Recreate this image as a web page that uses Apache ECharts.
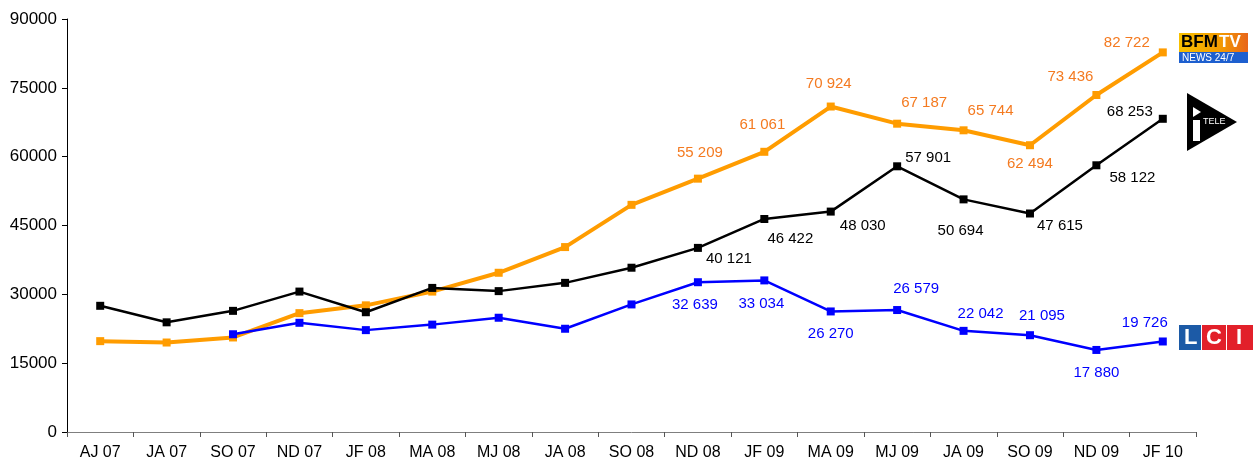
<!DOCTYPE html>
<html>
<head>
<meta charset="utf-8">
<script src="https://cdn.jsdelivr.net/npm/echarts@6/dist/echarts.min.js"></script>
<style>
  html, body { margin: 0; padding: 0; background: #fff; }
  #chart { width: 1257px; height: 463px; }
</style>
</head>
<body>
<div id="chart"></div>
<script>
// periodes (bimestres)
const categories = ['AJ 07', 'JA 07', 'SO 07', 'ND 07', 'JF 08', 'MA 08', 'MJ 08', 'JA 08', 'SO 08',
  'ND 08', 'JF 09', 'MA 09', 'MJ 09', 'JA 09', 'SO 09', 'ND 09', 'JF 10'];

const bfmValues = [19800, 19500, 20600, 25900, 27600, 30600, 34700, 40300, 49500,
  55209, 61061, 70924, 67187, 65744, 62494, 73436, 82722];
const iteleValues = [27500, 23900, 26400, 30600, 26100, 31400, 30700, 32500, 35800,
  40121, 46422, 48030, 57901, 50694, 47615, 58122, 68253];
const lciValues = ['-', '-', 21300, 23800, 22200, 23400, 24900, 22500, 27800,
  32639, 33034, 26270, 26579, 22042, 21095, 17880, 19726];

const yTicks = [0, 15000, 30000, 45000, 60000, 75000, 90000];

// les valeurs ne sont affichees qu'a partir de ND 08
const firstLabelled = 9;
// decalage des etiquettes [dx, dy] autour du point
const bfmLabelOffsets = [[2, -26], [-2, -27], [-2, -23], [27, -21], [27, -19], [0, 19], [-26, -18], [-36, -10]];
const iteleLabelOffsets = [[31, 11], [26, 20], [32, 14], [31, -8], [-3, 31], [30, 12], [36, 13], [-33, -7]];
const lciLabelOffsets = [[-3, 23], [-3, 23], [0, 22], [19, -21], [17, -17], [12, -19], [0, 23], [-18, -19]];

const labelFont = '"Liberation Sans Narrow", "Liberation Sans", Arial, sans-serif';

function fmt(v) {
  return String(v).replace(/\B(?=(\d{3})+(?!\d))/g, ' ');
}

function buildData(values, offsets, color) {
  return values.map((v, i) => {
    if (i < firstLabelled || v === '-') return v;
    return {
      value: v,
      label: {
        show: true,
        position: 'inside',
        offset: offsets[i - firstLabelled],
        color: color,
        fontFamily: labelFont,
        fontSize: 15,
        formatter: (p) => fmt(p.value)
      }
    };
  });
}

const chart = echarts.init(document.getElementById('chart'), null, {renderer: 'canvas'});

const option = {
  animation: false,
  backgroundColor: '#fff',
  grid: {left: 67, right: 61, top: 19, bottom: 31, containLabel: false},
  xAxis: {
    type: 'category',
    data: categories,
    boundaryGap: true,
    axisLine: {lineStyle: {color: '#7f7f7f', width: 1}},
    axisTick: {show: true, length: 5, lineStyle: {color: '#555'}},
    axisLabel: {
      color: '#000', fontFamily: 'Liberation Sans, Arial, sans-serif', fontSize: 16,
      margin: 13, interval: 0
    },
    splitLine: {show: false}
  },
  yAxis: {
    type: 'value',
    min: yTicks[0],
    max: yTicks[yTicks.length - 1],
    interval: yTicks[1] - yTicks[0],
    axisLine: {show: true, lineStyle: {color: '#000', width: 1}},
    axisTick: {show: true, length: 5, lineStyle: {color: '#000'}},
    axisLabel: {
      color: '#000', fontFamily: 'Liberation Sans, Arial, sans-serif', fontSize: 17, margin: 10,
      formatter: (v) => String(v)
    },
    splitLine: {show: false}
  },
  series: [
    {
      name: 'BFM TV',
      type: 'line',
      data: buildData(bfmValues, bfmLabelOffsets, '#f47a20'),
      symbol: 'rect',
      symbolSize: 8,
      lineStyle: {color: '#ff9c00', width: 4},
      itemStyle: {color: '#ff9c00'},
      z: 2
    },
    {
      name: 'i>TELE',
      type: 'line',
      data: buildData(iteleValues, iteleLabelOffsets, '#000'),
      symbol: 'rect',
      symbolSize: 8,
      lineStyle: {color: '#000', width: 2.5},
      itemStyle: {color: '#000'},
      z: 3
    },
    {
      name: 'LCI',
      type: 'line',
      data: buildData(lciValues, lciLabelOffsets, '#0000ff'),
      symbol: 'rect',
      symbolSize: 8,
      lineStyle: {color: '#0000ff', width: 2.5},
      itemStyle: {color: '#0000ff'},
      z: 4
    }
  ],
  graphic: [
    // logo BFM TV
    {
      type: 'rect', shape: {x: 1179, y: 33, width: 69, height: 19},
      style: {
        fill: new echarts.graphic.LinearGradient(0, 0, 1, 0, [
          {offset: 0, color: '#f7c000'}, {offset: 0.6, color: '#f39a00'}, {offset: 1, color: '#e8651a'}
        ])
      }
    },
    {type: 'rect', shape: {x: 1179, y: 52, width: 69, height: 11}, style: {fill: '#1d5fcf'}},
    {
      type: 'text', x: 1181, y: 34,
      style: {text: 'BFM', fill: '#000', font: 'bold 17px "Liberation Sans Narrow", "Liberation Sans", sans-serif'}
    },
    {
      type: 'text', x: 1219, y: 34,
      style: {text: 'TV', fill: '#fff', font: 'bold 17px "Liberation Sans Narrow", "Liberation Sans", sans-serif'}
    },
    {
      type: 'text', x: 1182, y: 53,
      style: {text: 'NEWS 24/7', fill: '#fff', font: '10px "Liberation Sans", sans-serif'}
    },
    // logo i>TELE
    {type: 'polygon', shape: {points: [[1187, 93], [1187, 151], [1237, 122]]}, style: {fill: '#000'}},
    {type: 'polygon', shape: {points: [[1193, 107], [1201, 112], [1193, 117]]}, style: {fill: '#fff'}},
    {type: 'rect', shape: {x: 1193, y: 120, width: 7, height: 21}, style: {fill: '#fff'}},
    {
      type: 'text', x: 1203, y: 117,
      style: {text: 'TELE', fill: '#fff', font: '9px "Liberation Sans", sans-serif'}
    },
    // logo LCI
    {type: 'rect', shape: {x: 1179, y: 325, width: 22, height: 25}, style: {fill: '#1c5aa6'}},
    {type: 'rect', shape: {x: 1202, y: 325, width: 24, height: 25}, style: {fill: '#e2202a'}},
    {type: 'rect', shape: {x: 1227, y: 325, width: 26, height: 25}, style: {fill: '#e2202a'}},
    {
      type: 'text', x: 1184, y: 327,
      style: {text: 'L', fill: '#fff', font: 'bold 22px "Liberation Sans", sans-serif'}
    },
    {
      type: 'text', x: 1206, y: 327,
      style: {text: 'C', fill: '#fff', font: 'bold 22px "Liberation Sans", sans-serif'}
    },
    {
      type: 'text', x: 1236, y: 327,
      style: {text: 'I', fill: '#fff', font: 'bold 22px "Liberation Sans", sans-serif'}
    }
  ]
};

chart.setOption(option);
</script>
</body>
</html>
